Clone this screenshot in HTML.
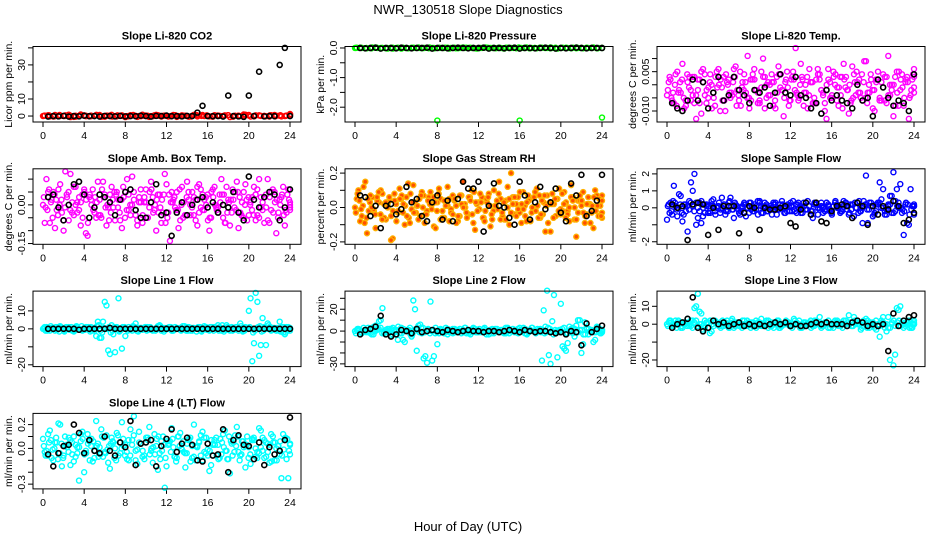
<!DOCTYPE html>
<html><head><meta charset="utf-8"><style>
html,body{margin:0;padding:0;background:#fff;}
svg{display:block;font-family:"Liberation Sans",Arial,sans-serif;}
</style></head><body>
<svg id="chart" width="936" height="540" viewBox="0 0 936 540" xmlns="http://www.w3.org/2000/svg">
<rect width="936" height="540" fill="#fff"/>
<text x="468" y="14" text-anchor="middle" font-size="13">NWR_130518  Slope Diagnostics</text>
<text x="468" y="531" text-anchor="middle" font-size="13">Hour of Day (UTC)</text>
</svg>
<script>
const xTicks=[0,4,8,12,16,20,24];
const p1_a=[0,0.5,-0.3,0.2,0,0.8,-0.5,0.1,0.4,-0.2,0,0.6,-0.4,0.3,0,0.2,-0.6,0.5,0.1,-0.1,0.3,0,0.7,-0.3,0.2,0.1,-0.5,0.4,0,0.2,-0.2,0.6,0.1,-0.4,0.3,0,0.5,-0.1,0.2,0.9,0.3,-0.2,0.4,0.1,-0.3,0.6,0.2,0,1.2];
const p1_b=[0.3,-0.2,0.6,0,0.4,-0.6,0.2,0.9,-0.1,0.3,0.5,-0.4,0.1,0.7,-0.2,0.4,0,0.3,-0.5,0.8,0.2,-0.1,0.5,0.1,-0.3,0.6,0,0.2,-0.4,0.7,0.3,0,-0.2,0.5,0.1,0.4,-0.6,0.2,0,0.8,-0.3,0.4,0.1,-0.1,0.5,0.2,-0.2,0.3,0.9];
const p1_c=[0.1,0.4,-0.2,0.6,0,0.3,-0.4,0.5,0.2,-0.1,0.7,0,0.3,-0.3,0.4,0.1,-0.2,0.6,0,0.2,-0.5,0.4,0.1,0.3,-0.1,0.5,0,0.2,-0.3,0.6,0.1,0.4,-0.2,0.3,0,0.5,-0.4,0.2,0.1,0.6,-0.1,0.3,0,0.4,-0.2,0.5,0.1,0.8];
const p1_d=[];
const p1_k=[-0.3,0,-0.2,0.1,-0.3,0,-0.2,0.2,-0.1,0,-0.3,0.1,0,-0.2,0.1,-0.2,0,-0.1,0.2,0,-0.3,0.1,0,0.3,-0.1,0,-0.2,0.1,0,2,6,0,-0.1,0,-0.3,12,0,-0.2,-0.5,12,0,26,-0.2,0,-0.1,30,40,0];
const p2_a=[0,0.01,-0.01,0,0.02,0,-0.01,0.01,0,-0.02,0,0.01,0,-0.01,0.01,0,-2.45,0,0.01,0,-0.01,0.02,0,0,-0.01,0.01,0,0,0.01,-0.02,0,0.01,-2.45,0,-0.01,0,0.01,0,0.02,-0.01,0,0.01,0,-0.01,0,0.01,0,-0.01,-2.35];
const p2_b=[0.01,0,-0.01,0.02,0,0,-0.02,0.01,0,0.01,-0.01,0,0.02,0,-0.01,0,0.01,0,-0.02,0.01,0,0,0.01,-0.01,0,0.02,0,-0.01,0,0.01,0,-0.01,0,0.02,0,-0.01,0.01,0,0,-0.02,0.01,0,0.01,0,-0.01,0,0.02,0,0];
const p2_c=[0,0.01,0,-0.01,0.01,0,0,-0.02,0.01,0,-0.01,0.01,0,0,0.02,-0.01,0,0.01,0,-0.01,0,0.01,0,-0.02,0,0.01,0,0,-0.01,0.01,0,0.02,0,-0.01,0,0.01,0,-0.01,0.01,0,0,-0.01,0.02,0,0,0.01,-0.01,0];
const p2_d=[];
const p2_k=[0,-0.01,0,0.01,-0.02,0,0,-0.01,0.01,0,-0.01,0,0,0.01,-0.02,0,0,-0.01,0,0.01,0,-0.01,0,0,0.01,-0.02,0,0,-0.01,0,0.01,-0.02,0,0,-0.01,0,0.01,0,-0.02,0,-0.01,0,0.01,0,-0.01,0,0,0];
const p3_a=[-0.004,0.002,-0.007,0.005,-0.003,-0.009,0.001,-0.006,0.003,-0.002,-0.011,0.004,-0.005,0,-0.008,0.006,-0.001,-0.010,0.002,-0.004,0.007,-0.006,0.001,-0.003,-0.009,0.004,-0.002,-0.007,0.010,-0.005,0,-0.008,0.003,-0.001,-0.012,0.005,-0.006,0.002,-0.004,0.008,-0.003,-0.009,0.001,-0.007,0.004,-0.002,-0.010,0.006,-0.005,0,-0.008,0.003,-0.001,-0.011,0.007,-0.004,0.002,-0.006,0.009,-0.003,-0.009,0.001,-0.005,0.004,-0.007,0,-0.012,0.005,-0.002,-0.008,0.003,-0.004,0.006];
const p3_b=[0.001,-0.006,0.004,-0.002,0.008,-0.008,0.003,-0.004,-0.013,0.002,0.006,-0.007,0.001,-0.003,0.005,-0.010,0.003,0.001,-0.005,0.006,-0.002,-0.008,0.004,0.011,-0.006,0.002,-0.003,0.005,-0.009,0.001,0.004,-0.006,0.007,-0.002,0.001,-0.008,0.003,0.014,-0.005,0.002,-0.003,0.006,-0.007,0.002,0.004,-0.004,-0.013,0.001,0.005,-0.006,0.003,0.008,-0.002,-0.007,0.004,0.001,-0.005,0.009,-0.003,0.002,-0.010,0.005,0.001,-0.006,0.011,-0.002,0.003,-0.008,0.004,0.001,-0.013,0.002,-0.001];
const p3_c=[-0.002,-0.005,0.000,-0.003,0.002,-0.006,-0.001,0.003,-0.004,-0.007,0.001,-0.002,0.004,-0.005,-0.001,0.002,-0.006,0.000,-0.003,0.003,-0.004,-0.001,0.001,-0.005,0.002,-0.002,-0.006,0.003,0.000,-0.004,0.001,-0.003,0.004,-0.005,-0.001,0.002,-0.002,-0.006,0.003,0.000,-0.004,0.001,-0.007,0.002,-0.003,0.000,-0.005,0.003,-0.001,-0.004,0.002,-0.002,-0.006,0.001,-0.003,0.004,-0.005,0.000,-0.002,0.002,-0.006,-0.001,0.003,-0.004,0.000,-0.003,0.002,-0.005,0.001,-0.002,0.003];
const p3_d=[0.003,-0.003,-0.008,0.001,-0.005,0.004,-0.002,-0.007,0.002,0.005,-0.004,-0.001,-0.009,0.003,0.000,-0.006,0.004,-0.003,0.001,-0.008,0.005,-0.002,-0.005,0.002,0.006,-0.007,-0.001,0.003,-0.004,0.001,-0.009,0.004,-0.002,0.002,-0.006,0.005,-0.003,0.000,-0.008,0.003,0.001,-0.005,0.006,-0.002,-0.007,0.002,-0.004,0.004,-0.001,-0.009,0.003,0.000,-0.005,0.005,-0.003,0.001,-0.007,0.004,-0.002,0.002,-0.006,0.003,-0.004,0.000,-0.008,0.005,-0.001,0.002,-0.005,0.004,-0.003];
const p3_k=[-0.007,-0.009,-0.010,-0.006,0.002,-0.006,0.001,-0.009,-0.003,0.003,-0.006,-0.004,0.003,-0.002,-0.004,-0.007,-0.002,-0.003,-0.001,-0.008,-0.003,0.004,-0.003,-0.004,0.003,-0.004,-0.005,-0.009,-0.007,-0.011,-0.002,-0.006,-0.004,-0.006,-0.007,-0.009,0.000,-0.006,-0.005,-0.012,0.002,-0.001,-0.005,-0.008,-0.006,-0.007,-0.010,0.004];
const p4_a=[0.00,0.10,-0.07,0.05,-0.02,0.08,-0.10,0.03,0.12,-0.04,0.01,-0.08,0.06,-0.12,0.02,-0.03,0.09,-0.05,0.04,-0.01,0.07,-0.06,0.02,-0.09,0.05,-0.02,0.11,-0.04,0.01,-0.07,0.06,-0.01,0.03,-0.10,0.04,-0.03,0.08,-0.14,0.02,0.05,-0.06,0.01,0.09,-0.04,0.03,-0.08,0.06,-0.02,0.04,-0.05,0.07,-0.01,0.10,-0.07,0.02,-0.03,0.05,-0.09,0.01,0.08,-0.04,0.03,-0.06,0.10,-0.02,0.04,-0.07,0.06,-0.11,0.02,0.07,-0.03,0.01];
const p4_b=[-0.07,0.05,0.02,-0.09,0.06,-0.03,0.13,-0.06,0.01,0.07,-0.02,0.04,-0.11,0.03,0.06,-0.05,0.02,0.09,-0.08,0.04,-0.01,0.05,-0.06,0.03,0.10,-0.04,0.02,-0.08,0.06,0.01,-0.05,0.09,-0.02,0.04,-0.07,0.12,-0.03,0.05,-0.01,-0.09,0.07,-0.04,0.02,0.05,-0.06,0.08,-0.02,0.03,-0.10,0.06,-0.01,0.04,-0.05,0.07,-0.08,0.02,0.09,-0.03,0.05,-0.06,0.01,0.07,-0.04,0.03,-0.07,0.10,-0.02,0.05,-0.05,0.03,-0.08,0.06,-0.01];
const p4_c=[0.03,-0.02,0.01,0.04,-0.04,0.02,-0.01,0.05,-0.03,0.00,0.03,-0.05,0.02,0.04,-0.02,0.01,-0.04,0.03,0.00,-0.03,0.05,-0.01,0.02,-0.05,0.04,0.00,-0.02,0.03,-0.04,0.01,0.05,-0.03,0.02,-0.01,0.04,-0.05,0.01,0.03,-0.02,0.00,-0.04,0.05,-0.01,0.02,-0.03,0.04,0.00,-0.05,0.03,-0.02,0.01,0.04,-0.03,0.02,-0.01,0.05,-0.04,0.00,0.03,-0.02,0.04,-0.05,0.01,-0.01,0.03,-0.03,0.02,0.00,-0.04,0.04,-0.02];
const p4_d=[-0.01,0.06,-0.05,0.02,0.00,-0.06,0.04,-0.02,0.07,-0.03,0.01,0.05,-0.07,0.00,0.03,-0.04,0.06,-0.01,-0.06,0.02,0.04,-0.03,0.07,-0.02,0.00,0.05,-0.06,0.01,0.03,-0.05,0.06,0.00,-0.03,0.02,-0.07,0.04,0.01,-0.02,0.06,-0.05,0.03,0.00,-0.04,0.07,-0.01,0.02,-0.06,0.05,0.00,-0.03,0.04,-0.07,0.01,0.06,-0.02,0.03,-0.05,0.02,0.00,-0.04,0.06,-0.01,0.03,-0.06,0.05,0.01,-0.03,0.04,-0.02,0.02,0.00];
const p4_k=[0.03,0.04,-0.01,-0.06,0.00,0.08,0.09,0.04,-0.05,-0.01,0.04,0.03,0.01,-0.04,0.02,0.05,0.06,-0.02,-0.05,-0.05,0.01,0.08,-0.04,-0.03,-0.12,-0.03,0.01,-0.04,0.00,0.02,0.03,-0.01,0.01,-0.03,0.00,-0.01,0.05,-0.03,-0.06,0.11,0.02,-0.01,0.03,0.05,0.04,-0.06,-0.01,0.06];
const p5_a=[0.00,0.10,-0.05,0.15,-0.02,0.06,-0.12,0.03,0.08,-0.07,0.04,-0.18,0.02,0.11,-0.03,0.06,-0.09,0.13,0.01,-0.05,0.07,-0.02,0.09,-0.11,0.03,0.05,-0.06,0.12,-0.01,0.04,-0.08,0.07,0.02,-0.04,0.10,-0.13,0.03,0.06,-0.02,0.08,-0.07,0.01,0.15,-0.05,0.04,-0.10,0.06,0.02,-0.03,0.09,-0.08,0.05,-0.01,0.11,-0.06,0.03,0.07,-0.14,0.02,0.05,-0.04,0.09,-0.02,0.13,-0.07,0.04,0.01,-0.09,0.06,-0.03,0.10,-0.05,0.07];
const p5_b=[0.05,-0.08,0.12,-0.15,0.07,-0.02,0.04,0.10,-0.06,0.02,-0.19,0.08,-0.03,0.05,-0.10,0.14,-0.01,0.03,-0.07,0.09,-0.04,0.06,0.02,-0.12,0.11,-0.02,0.04,-0.08,0.07,0.01,-0.05,0.15,-0.03,0.06,-0.09,0.02,0.08,-0.06,0.03,-0.11,0.10,-0.01,0.05,-0.07,0.12,0.20,-0.04,0.06,-0.09,0.01,0.07,-0.03,0.09,-0.06,0.04,-0.14,0.02,0.08,-0.05,0.11,-0.02,0.03,-0.08,0.06,-0.17,0.04,0.09,-0.04,0.02,-0.12,0.07,0.01,-0.06];
const p5_c=[-0.03,0.04,0.01,-0.06,0.03,-0.01,0.06,-0.04,0.02,0.00,-0.05,0.04,-0.02,0.07,0.01,-0.06,0.03,-0.03,0.05,0.00,-0.04,0.02,0.06,-0.02,-0.07,0.04,0.01,-0.03,0.05,-0.05,0.02,0.00,0.06,-0.04,0.03,-0.01,-0.06,0.05,0.01,-0.02,0.04,-0.07,0.03,0.00,-0.03,0.06,-0.01,0.02,-0.05,0.04,0.00,-0.02,0.07,-0.04,0.01,0.03,-0.06,0.05,-0.01,0.02,-0.04,0.06,0.00,-0.03,0.04,-0.05,0.02,0.01,-0.02,0.05,-0.03];
const p5_d=[0.08,-0.01,-0.09,0.05,0.00,-0.04,0.09,-0.07,0.03,0.06,-0.02,-0.08,0.05,0.02,-0.05,0.08,-0.03,0.01,0.07,-0.09,0.04,-0.01,0.03,0.08,-0.06,0.01,0.05,-0.04,-0.09,0.07,0.00,-0.06,0.04,0.09,-0.02,0.03,-0.08,0.06,-0.04,0.01,0.08,-0.03,-0.07,0.05,0.02,-0.05,0.09,-0.01,0.03,-0.08,0.06,0.01,-0.04,0.07,-0.09,0.02,0.05,-0.02,0.08,-0.06,0.00,0.04,-0.07,0.07,-0.03,0.02,-0.09,0.06,0.01,-0.05,0.04];
const p5_k=[0.07,0.06,-0.05,0.01,-0.12,0.01,0.02,-0.04,-0.01,0.12,0.03,0.05,-0.05,-0.08,0.03,0.07,-0.07,0.04,-0.08,0.05,0.15,0.11,0.11,0.15,-0.14,0.01,0.14,0.01,0.00,-0.06,-0.10,0.15,0.07,-0.07,0.03,0.12,-0.01,0.03,0.11,-0.03,-0.08,0.14,0.07,0.19,-0.05,-0.02,0.04,0.19];
const p6_a=[-0.7,0.3,1.3,-0.5,0.7,0.2,-1.4,1.5,2.0,-0.6,-0.9,0.2,-0.3,0.4,-0.2,0.1,0.6,-0.4,0.3,-0.1,0.2,-0.3,0.1,-0.5,0.3,-0.2,0.1,0.4,-0.3,0.2,-0.1,0.3,-0.4,0.2,0,-0.2,0.3,-0.1,0.2,-0.3,0.1,0.4,-0.2,0.3,-0.4,0.1,-0.1,0.2,-0.3,0.3,0.1,-0.2,0.3,-0.4,0.2,0,0.4,-0.9,1.9,0.3,-0.5,0.2,1.5,1.1,-0.4,0.7,2.1,1.1,1.4,-1.6,-0.9,1.1,0.1];
const p6_b=[0.2,-0.4,0.1,0.8,-0.8,-0.2,0.4,1.0,-1.0,0.3,-0.5,0.1,-0.2,0.5,0,-0.3,0.2,-0.1,0.6,-0.6,0.1,-0.2,0.3,0,-0.1,0.2,-0.4,0.1,0.3,-0.2,0,0.2,-0.1,0.4,-0.3,0.1,-0.2,0.2,0,-0.3,0.3,0.1,-0.6,0.2,-0.1,0,0.3,-0.2,0.1,0.2,-0.3,0.4,-0.1,0.2,-0.5,0.3,-0.2,0.1,-0.9,0.3,-0.3,0.2,0.5,-0.4,0.1,0.7,-0.2,0.3,-0.3,0.2,-1.0,0.1,-0.4];
const p6_c=[0.1,-0.2,0.3,0,-0.3,0.2,-0.1,0.1,0.3,-0.2,0,0.2,-0.3,0.1,0,-0.1,0.2,-0.2,0.1,0.3,-0.1,0,0.2,-0.3,0.1,-0.1,0.3,0,-0.2,0.1,0.2,-0.1,0,-0.3,0.2,0.1,-0.2,0.3,0,-0.1,0.1,-0.2,0.2,0,-0.3,0.3,-0.1,0.1,0,-0.2,0.2,0.1,-0.1,0.3,-0.3,0,0.2,-0.1,0.1,-0.2,0.3,0,-0.1,0.2,-0.3,0.1,0,-0.2,0.2,-0.1,0.1];
const p6_d=[-0.3,0.4,-0.1,0.2,-0.4,0.1,0.3,-0.2,0,0.4,-0.3,0.1,0.2,-0.4,0.3,0,-0.2,0.4,-0.1,0.1,-0.4,0.2,0,0.3,-0.2,0.4,-0.3,0.1,0,-0.4,0.3,-0.1,0.2,0,-0.2,0.4,-0.3,0.1,0.3,-0.1,-0.4,0.2,0,0.3,-0.2,0.1,-0.4,0.4,0,-0.1,0.3,-0.3,0.2,0,-0.2,0.4,-0.1,0.1,-0.4,0.3,0,-0.2,0.2,-0.3,0.4,0,-0.1,0.3,-0.4,0.1,0.2];
const p6_k=[0.2,0,0.1,-1.9,0.2,0.3,0.2,-1.6,0,-1.3,0.1,0.1,0.1,-1.5,-0.3,0.1,0,-1.3,0,-0.1,-0.1,0,0.1,-0.9,-1.1,-0.1,0.3,-0.4,0.3,-0.8,-0.9,-0.2,0.1,0.2,0.1,-0.6,0.3,0.1,-1.0,0.1,-0.4,0.1,-0.1,0.4,0.1,-0.9,-0.7,-0.3];
const p7_a=[0,1,-1,0.5,-0.5,1.5,-1,0.5,0,-1.5,1,-0.5,0.5,0,1,-1,4,-5,15,-12,2,-13,17,-11,-4,1,-1,3,0,-0.5,1,0,-1,0.5,2,-0.5,0,1,-1,0.5,-0.5,0,1,-1,0.5,0,-1,1.5,0,-0.5,1,2,-1,0.5,-0.5,1,0,-1,-0.5,1,10,-18,20,-15,6,-9,1,0.5,-1,4,-2,1,-1];
const p7_b=[1,-0.5,0.5,-1,1,0,-0.5,1,-1,0.5,0,-1,1,-0.5,0.5,-4,-5,4,13,-14,-3,1,-1,0.5,0,-0.5,1,-1,0.5,0,1,-0.5,0,1.5,-1,0.5,0,-1,1,0,-0.5,0.5,1,-1,0,0.5,-0.5,1,-1,0,0.5,1,-0.5,2,-1,0,1,3,-1,0.5,17,-8,15,-9,1,3,-1,0.5,0,-0.5,-3,1,0];
const p7_c=[0.5,-1,1.5,0,-0.5,1,-1.5,0.5,1,-1,0,1.5,-0.5,1,-1,0.5,2,-2,0,1,-1,0.5,-1.5,1,0,-0.5,1.5,-1,0.5,0,-1,1,-0.5,0,1.5,-1.5,0.5,1,-0.5,0,-1,1.5,-1,0.5,0,1,-1.5,0.5,-0.5,1,0,-1,2,-0.5,0.5,-1,1,0,-1.5,0.5,1,-2,0.5,1.5,-1,0,1,-0.5,0.5,-1.5,1,-1,0.5];
const p7_d=[-1,0.5,0,1,-1.5,0.5,1,-0.5,-1,1.5,0,-0.5,1,-1.5,0,1.5,-1,0.5,0,-2,1,0.5,-0.5,1,-1,0,1,-1.5,0.5,1,-0.5,0,-1,1.5,0,-0.5,1,-1,0,0.5,1.5,-1,0,0.5,-1.5,1,0,-0.5,1,-1,0.5,0,-1.5,1,0.5,-0.5,0,1.5,-1,0.5,0,-1,1,-1.5,0.5,2,-0.5,0,-1,1,-2,0.5,0];
const p7_k=[0,0,0,0,0,0,-0.5,0,0,0,0,0,0.5,0,0,0,0,0,0,0,0,0,0,0,0,0,0,0,0,0,0,0,0,0,0,0,0,0,0,0,0,0,0,0,0,0,0,0];
const p8_a=[0,2,-2,1,-1,3,5,9,21,-1,2,-3,1,-2,-8,0,3,28,-18,6,-25,-29,27,-23,-12,1,-2,2,0,-1,1,-2,3,0,-1,2,-1,0,1,-3,2,0,-1,1,-2,0,2,-1,3,0,-2,1,0,-1,2,19,37,-30,33,-24,25,-16,-11,2,-5,10,-20,8,-3,1,-8,3,-1];
const p8_b=[1,-1,3,0,-2,4,2,10,-1,2,-4,1,-8,3,-10,0,-5,20,5,-2,-23,1,-27,3,-2,1,0,-1,2,-1,0,1,-2,1,3,-1,0,2,-1,1,-2,0,1,-1,2,0,-1,2,1,-2,0,3,-1,1,-27,4,-22,9,-1,1,-14,-18,4,-2,5,10,-12,3,0,-10,4,-2,1];
const p8_c=[-2,1,0,-1,2,-3,1,3,-2,0,2,-1,4,-2,0,1,-3,2,-1,3,0,-2,1,-1,2,0,-3,1,2,-1,0,3,-2,1,-1,2,0,-3,1,0,2,-1,-2,3,0,1,-2,0,2,-1,3,-2,0,1,-1,2,-3,0,1,3,-2,0,2,-1,1,-3,2,0,-1,2,0];
const p8_d=[2,-1,1,3,-3,0,2,-2,1,-1,3,0,-2,2,1,-3,0,1,3,-1,2,0,-2,1,-1,3,0,-2,1,2,-1,0,-3,2,1,-1,3,0,-2,2,-1,1,3,-2,0,1,-1,3,-3,1,0,2,-1,-2,3,0,1,-1,2,-2,0,3,-1,1,-3,2,0,-1,3,-2,1];
const p8_k=[-3,1,2,4,14,-3,-5,-3,1,0,-2,2,-1,0,1,0,-1,1,0,-1,0,1,0,0,-1,0,0,-1,0,1,0,-1,1,0,-1,0,0,-1,-2,-1,-3,0,-1,-13,7,-1,2,5];
const p9_a=[0,2,-1,1,-2,1,3,-1,9,17,6,-2,1,-4,2,0,-1,1,-2,3,0,-1,2,-1,0,1,-2,1,0,2,-1,0,1,-2,0,1,-1,3,0,-1,1,0,-2,2,0,-1,1,-2,0,2,-1,1,0,5,-1,2,0,-1,3,-2,1,-3,-7,4,-4,-20,-23,9,10,-2,1,-1,0];
const p9_b=[1,-1,2,0,-2,1,-1,2,10,7,-3,1,-5,2,0,1,-1,2,0,-2,1,0,2,-1,1,0,-1,3,0,-2,1,0,2,-1,0,1,-2,0,2,-1,0,1,-1,0,4,-1,1,0,-2,1,0,2,-1,1,4,0,-3,-1,2,0,-2,0,1,-2,4,0,-17,8,1,-1,2,-2,0];
const p9_c=[-1,1,0,2,-1,0,1,-2,2,0,-1,1,2,-1,0,-2,1,0,2,-1,1,-2,0,1,-1,2,0,-1,1,0,-2,2,-1,0,1,-1,2,0,-2,1,0,-1,2,1,-1,0,-2,1,2,-1,0,1,-1,2,0,-2,1,0,-1,2,-1,1,0,-2,2,1,-1,0,1,-2,2];
const p9_d=[2,0,-2,1,0,-1,2,1,-1,0,2,-2,0,1,-1,2,0,-2,1,1,-1,0,2,-2,0,1,-1,0,2,-1,1,-2,0,2,-1,0,1,-2,1,0,2,-1,0,-2,1,2,-1,0,1,-2,2,0,-1,1,0,2,-2,1,0,-1,2,0,-2,1,-1,2,0,1,-2,0,1];
const p9_k=[-2,0,1,3,15,-2,-4,-2,2,0,1,-1,0,1,-1,0,-1,0,-1,0,1,0,1,-1,0,-1,-1,0,1,0,1,0,0,0,-1,1,2,1,-1,0,-1,0,-15,6,-1,2,4,5];
const p10_a=[0.08,-0.02,0.15,-0.10,0.05,0.20,-0.06,0.01,-0.14,0.10,-0.04,0.06,-0.20,0.12,0.02,-0.08,0.04,0.16,-0.03,-0.12,0.09,0.00,-0.06,0.22,0.03,-0.10,0.07,-0.02,0.14,-0.07,0.05,0.18,-0.12,0.02,-0.04,0.10,-0.15,0.06,0.01,-0.08,0.13,-0.03,0.04,-0.11,0.20,0.02,-0.06,0.09,-0.01,-0.14,0.07,0.03,-0.05,0.15,-0.09,0.04,0.11,-0.03,0.06,-0.16,0.01,0.08,-0.07,0.17,-0.02,0.05,-0.12,0.10,0.00,-0.05,0.12,-0.09,0.03];
const p10_b=[-0.03,0.12,-0.08,0.05,0.21,-0.15,0.02,0.09,-0.05,0.03,-0.27,0.14,-0.02,0.06,-0.11,0.23,0.01,-0.07,0.11,-0.17,0.05,0.13,-0.04,0.02,-0.09,0.16,0.27,-0.13,0.04,-0.06,0.09,-0.02,0.12,-0.18,0.06,-0.33,0.03,0.17,-0.07,0.10,-0.01,-0.16,0.08,0.02,-0.10,0.06,0.14,-0.04,-0.19,0.03,0.09,-0.08,0.12,-0.02,-0.21,0.05,0.18,-0.06,0.01,0.10,-0.13,0.07,-0.03,0.15,-0.08,0.04,0.12,-0.10,0.02,-0.25,0.08,-0.25,0.04];
const p10_c=[0.02,-0.06,0.07,0.00,-0.09,0.04,0.10,-0.03,0.05,-0.07,0.01,0.08,-0.04,-0.10,0.06,0.02,-0.05,0.09,-0.01,0.04,-0.08,0.11,0.00,-0.06,0.07,0.03,-0.10,0.05,-0.02,0.09,-0.05,0.01,0.08,-0.09,0.03,0.06,-0.03,-0.07,0.10,0.00,-0.04,0.07,-0.08,0.02,0.05,-0.10,0.09,-0.02,0.04,-0.06,0.08,0.01,-0.09,0.06,-0.03,0.10,-0.05,0.02,-0.08,0.07,0.00,-0.04,0.09,-0.07,0.03,0.05,-0.10,0.06,-0.01,0.08,-0.05];
const p10_d=[-0.06,0.05,-0.01,0.09,-0.04,-0.08,0.03,0.07,-0.11,0.01,0.12,-0.05,0.04,0.08,-0.02,-0.07,0.10,-0.04,0.02,0.06,-0.10,0.05,0.08,-0.03,-0.06,0.11,-0.01,0.04,-0.09,0.07,0.00,-0.05,0.10,-0.02,-0.08,0.04,0.08,-0.11,0.02,0.06,-0.04,0.09,-0.07,0.01,0.11,-0.03,-0.06,0.07,0.03,-0.09,0.05,-0.02,0.10,-0.06,0.02,-0.10,0.06,0.03,-0.05,0.09,-0.08,0.01,0.07,-0.03,-0.11,0.05,0.02,-0.06,0.09,-0.02,0.04];
const p10_k=[-0.05,-0.15,-0.04,0.02,0.03,0.20,0.13,-0.04,0.07,-0.02,-0.04,0.10,-0.02,-0.06,0.05,0.01,0.23,-0.14,0.04,0.05,0.07,-0.15,0.02,0.08,0.16,-0.03,0.04,0.09,0.03,-0.10,-0.11,0.04,-0.06,-0.05,0.16,-0.20,0.07,0.11,0.03,0.02,-0.09,0.05,-0.14,0.01,-0.05,-0.02,0.07,0.26];

const panels=[
 {name:"co2",title:"Slope Li-820 CO2",ylab:"Licor ppm per min.",col:0,row:0,ymin:-3.5,ymax:40.8,yt:[0,10,20,30,40],yl:["0","10","","30",""],color:"#ff0000",fill:"none",s:[p1_a,p1_b,p1_c,p1_d],k:p1_k},
 {name:"pressure",title:"Slope Li-820 Pressure",ylab:"kPa per min.",col:1,row:0,ymin:-2.5,ymax:0.05,yt:[0,-0.5,-1,-1.5,-2],yl:["0.0","","-1.0","","-2.0"],color:"#00ff00",fill:"none",s:[p2_a,p2_b,p2_c,p2_d],k:p2_k},
 {name:"temp",title:"Slope Li-820 Temp.",ylab:"degrees C per min.",col:2,row:0,ymin:-0.0142,ymax:0.0146,yt:[-0.01,-0.005,0,0.005,0.01],yl:["-0.010","","","0.005",""],color:"#ff00ff",fill:"none",s:[p3_a,p3_b,p3_c,p3_d],k:p3_k},
 {name:"amb-box-temp",title:"Slope Amb. Box Temp.",ylab:"degrees C per min.",col:0,row:1,ymin:-0.153,ymax:0.14,yt:[-0.15,-0.1,-0.05,0,0.05,0.1],yl:["-0.15","","","0.00","",""],color:"#ff00ff",fill:"none",s:[p4_a,p4_b,p4_c,p4_d],k:p4_k},
 {name:"gas-stream-rh",title:"Slope Gas Stream RH",ylab:"percent per min.",col:1,row:1,ymin:-0.214,ymax:0.225,yt:[-0.2,-0.1,0,0.1,0.2],yl:["-0.2","","0.0","","0.2"],color:"#ffb000",fill:"#ff5000",s:[p5_a,p5_b,p5_c,p5_d],k:p5_k},
 {name:"sample-flow",title:"Slope Sample Flow",ylab:"ml/min per min.",col:2,row:1,ymin:-2.15,ymax:2.3,yt:[-2,-1,0,1,2],yl:["-2","","0","1","2"],color:"#0000ff",fill:"none",s:[p6_a,p6_b,p6_c,p6_d],k:p6_k},
 {name:"line1-flow",title:"Slope Line 1 Flow",ylab:"ml/min per min.",col:0,row:2,ymin:-21,ymax:21,yt:[-20,-10,0,10],yl:["-20","","0","10"],color:"#00ffff",fill:"none",s:[p7_a,p7_b,p7_c,p7_d],k:p7_k},
 {name:"line2-flow",title:"Slope Line 2 Flow",ylab:"ml/min per min.",col:1,row:2,ymin:-32.5,ymax:36.6,yt:[-30,-20,-10,0,10,20,30],yl:["-30","","","0","","20",""],color:"#00ffff",fill:"none",s:[p8_a,p8_b,p8_c,p8_d],k:p8_k},
 {name:"line3-flow",title:"Slope Line 3 Flow",ylab:"ml/min per min.",col:2,row:2,ymin:-23.7,ymax:18.5,yt:[-20,-10,0,10],yl:["-20","","0","10"],color:"#00ffff",fill:"none",s:[p9_a,p9_b,p9_c,p9_d],k:p9_k},
 {name:"line4-flow",title:"Slope Line 4 (LT) Flow",ylab:"ml/min per min.",col:0,row:3,ymin:-0.34,ymax:0.294,yt:[-0.3,-0.2,-0.1,0,0.1,0.2],yl:["-0.3","","","0.0","","0.2"],color:"#00ffff",fill:"none",s:[p10_a,p10_b,p10_c,p10_d],k:p10_k}
];
const offsets=[0,1/6,1/12,1/4];
const NS="http://www.w3.org/2000/svg";
const svg=document.getElementById('chart');
function mk(tag,attrs,parent){const e=document.createElementNS(NS,tag);for(const k in attrs)e.setAttribute(k,attrs[k]);parent.appendChild(e);return e;}
panels.forEach(p=>{
  const x0=43+p.col*312, x1=x0+247;
  const top=46.5+p.row*122.3, bot=top+75.5;
  const bl=x0-10, br=x1+11;
  const sx=t=>x0+(t/24)*(x1-x0);
  const sy=v=>bot-(v-p.ymin)/(p.ymax-p.ymin)*(bot-top);
  const g=mk('g',{},svg);
  
  
  const tt=mk('text',{x:(bl+br)/2,y:top-7,'text-anchor':'middle','font-size':'11','font-weight':'bold'},g);
  tt.textContent=p.title;
  
  
  const yt=mk('text',{x:0,y:0,'text-anchor':'middle','font-size':'10.5',transform:`translate(${bl-21},${(top+bot)/2}) rotate(-90)`},g);
  yt.textContent=p.ylab;
  
  
  const xa=mk('g',{},g);
  
  
  xTicks.forEach(t=>{
    mk('line',{x1:sx(t),x2:sx(t),y1:bot,y2:bot+5,stroke:'#000','stroke-width':1},xa);
    const l=mk('text',{x:sx(t),y:bot+17,'text-anchor':'middle','font-size':'10.5'},xa);
    l.textContent=String(t);
    
    
  });
  const ya=mk('g',{},g);
  
  
  p.yt.forEach((v,i)=>{
    mk('line',{x1:bl-5,x2:bl,y1:sy(v),y2:sy(v),stroke:'#000','stroke-width':1},ya);
    if(p.yl[i]){
      const l=mk('text',{x:0,y:0,'text-anchor':'middle','font-size':'10.5',transform:`translate(${bl-8},${sy(v)}) rotate(-90)`},ya);
      l.textContent=p.yl[i];
      
      
    }
  });
  const pts=mk('g',{},g);
  
  
  p.s.forEach((arr,si)=>{
    const off=offsets[si];
    arr.forEach((v,i)=>{
      const t=Math.min(24,i*24/(arr.length-1)+(i<arr.length-1?off:0));
      const c=mk('circle',{cx:sx(t),cy:sy(v),r:2.5,fill:p.fill,stroke:p.color,'stroke-width':1.4},pts);
      
      
    });
  });
  p.k.forEach((v,i)=>{
    const t=0.5+i*23.5/(p.k.length-1);
    const c=mk('circle',{cx:sx(t),cy:sy(v),r:2.5,fill:'none',stroke:'#000','stroke-width':1.6},pts);
    
    
  });
  const box=mk('rect',{x:bl,y:top,width:br-bl,height:bot-top,fill:'none',stroke:'#000','stroke-width':1},g);
  
  
});
</script>
</body></html>
